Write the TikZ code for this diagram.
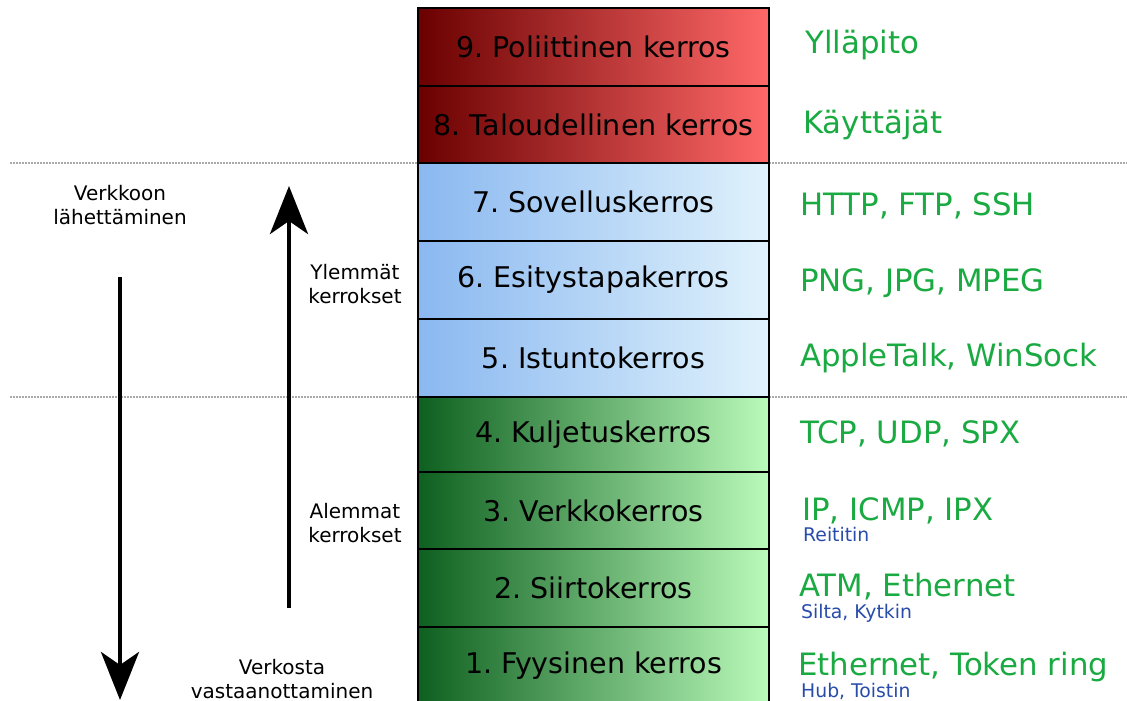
\documentclass[tikz,border=0pt]{standalone}
\usepackage{fontspec}
\setmainfont{DejaVu Sans}
\frenchspacing
\usetikzlibrary{arrows.meta}
\definecolor{redL}{RGB}{106,0,0}
\definecolor{redR}{RGB}{255,104,104}
\definecolor{bluL}{RGB}{138,184,240}
\definecolor{bluR}{RGB}{224,242,252}
\definecolor{grnL}{RGB}{14,96,32}
\definecolor{grnR}{RGB}{186,250,186}
\definecolor{protoGreen}{RGB}{26,170,66}
\definecolor{devBlue}{RGB}{40,76,170}
\definecolor{sepGray}{RGB}{170,170,170}
\tikzset{
  layer/.style={draw=black, line width=2.8pt, minimum width=351pt, inner sep=0pt, outer sep=0pt,
    font=\fontsize{28.5}{32}\selectfont},
  proto/.style={anchor=west, inner sep=0pt, text=protoGreen, font=\fontsize{30.8}{34}\selectfont},
  device/.style={anchor=west, inner sep=0pt, text=devBlue, font=\fontsize{18.8}{22}\selectfont},
  sidelabel/.style={align=center, inner sep=0pt, font=\fontsize{20}{24}\selectfont},
  sep/.style={draw=sepGray, line width=1.2pt, dash pattern=on 1.5pt off 1.5pt},
  bigarrow/.style={line width=4.5pt, -{Stealth[length=48pt, width=38pt, inset=13pt]}}
}
\begin{document}
\begin{tikzpicture}[x=1pt,y=-1pt]
\useasboundingbox (0,0) rectangle (1127,701);
\clip (0,0) rectangle (1127,701);
\fill[white] (0,0) rectangle (1127,701);
% separators
\draw[sep] (10,163) -- (418,163);
\draw[sep] (769,163) -- (1127,163);
\draw[sep] (10,397) -- (418,397);
\draw[sep] (769,397) -- (1127,397);
% layers
\node[layer, minimum height=78pt, left color=redL, right color=redR] (L9) at (593.5,47) {9. Poliittinen kerros};
\node[layer, minimum height=77pt, left color=redL, right color=redR] (L8) at (593.5,124.5) {8. Taloudellinen kerros};
\node[layer, minimum height=78pt, left color=bluL, right color=bluR] (L7) at (593.5,202) {7. Sovelluskerros};
\node[layer, minimum height=78pt, left color=bluL, right color=bluR] (L6) at (593.5,280) {6. Esitystapakerros};
\node[layer, minimum height=78pt, left color=bluL, right color=bluR] (L5) at (593.5,358) {5. Istuntokerros};
\node[layer, minimum height=75pt, left color=grnL, right color=grnR] (L4) at (593.5,434.5) {4. Kuljetuskerros};
\node[layer, minimum height=77pt, left color=grnL, right color=grnR] (L3) at (593.5,510.5) {3. Verkkokerros};
\node[layer, minimum height=78pt, left color=grnL, right color=grnR] (L2) at (593.5,588) {2. Siirtokerros};
\node[layer, minimum height=78pt, left color=grnL, right color=grnR] (L1) at (593.5,666) {1. Fyysinen kerros};
% protocols
\node[proto] (P9) at (805,45) {Ylläpito};
\node[proto] (P8) at (803,125) {Käyttäjät};
\node[proto] (P7) at (800,206) {HTTP, FTP, SSH};
\node[proto] (P6) at (800,283) {PNG, JPG, MPEG};
\node[proto] (P5) at (800,358) {AppleTalk, WinSock};
\node[proto] (P4) at (800,434) {TCP, UDP, SPX};
\node[proto] (P3) at (802,511) {IP, ICMP, IPX};
\node[device] (D3) at (803,534) {Reititin};
\node[proto] (P2) at (799,587) {ATM, Ethernet};
\node[device] (D2) at (801,613) {Silta, Kytkin};
\node[proto] (P1) at (798,667) {Ethernet, Token ring};
\node[device] (D1) at (801,691) {Hub, Toistin};
% side labels
\node[sidelabel] (send) at (120,205) {Verkkoon\\lähettäminen};
\node[sidelabel] (upper) at (355,284) {Ylemmät\\kerrokset};
\node[sidelabel] (lower) at (355,523) {Alemmat\\kerrokset};
\node[sidelabel] (recv) at (282,679) {Verkosta\\vastaanottaminen};
% arrows
\coordinate (downS) at (120,277);
\coordinate (downE) at (120,700);
\coordinate (upS) at (289,608);
\coordinate (upE) at (289,186);
\draw[bigarrow] (downS) -- (downE);
\draw[bigarrow] (upS) -- (upE);
\end{tikzpicture}
\end{document}
